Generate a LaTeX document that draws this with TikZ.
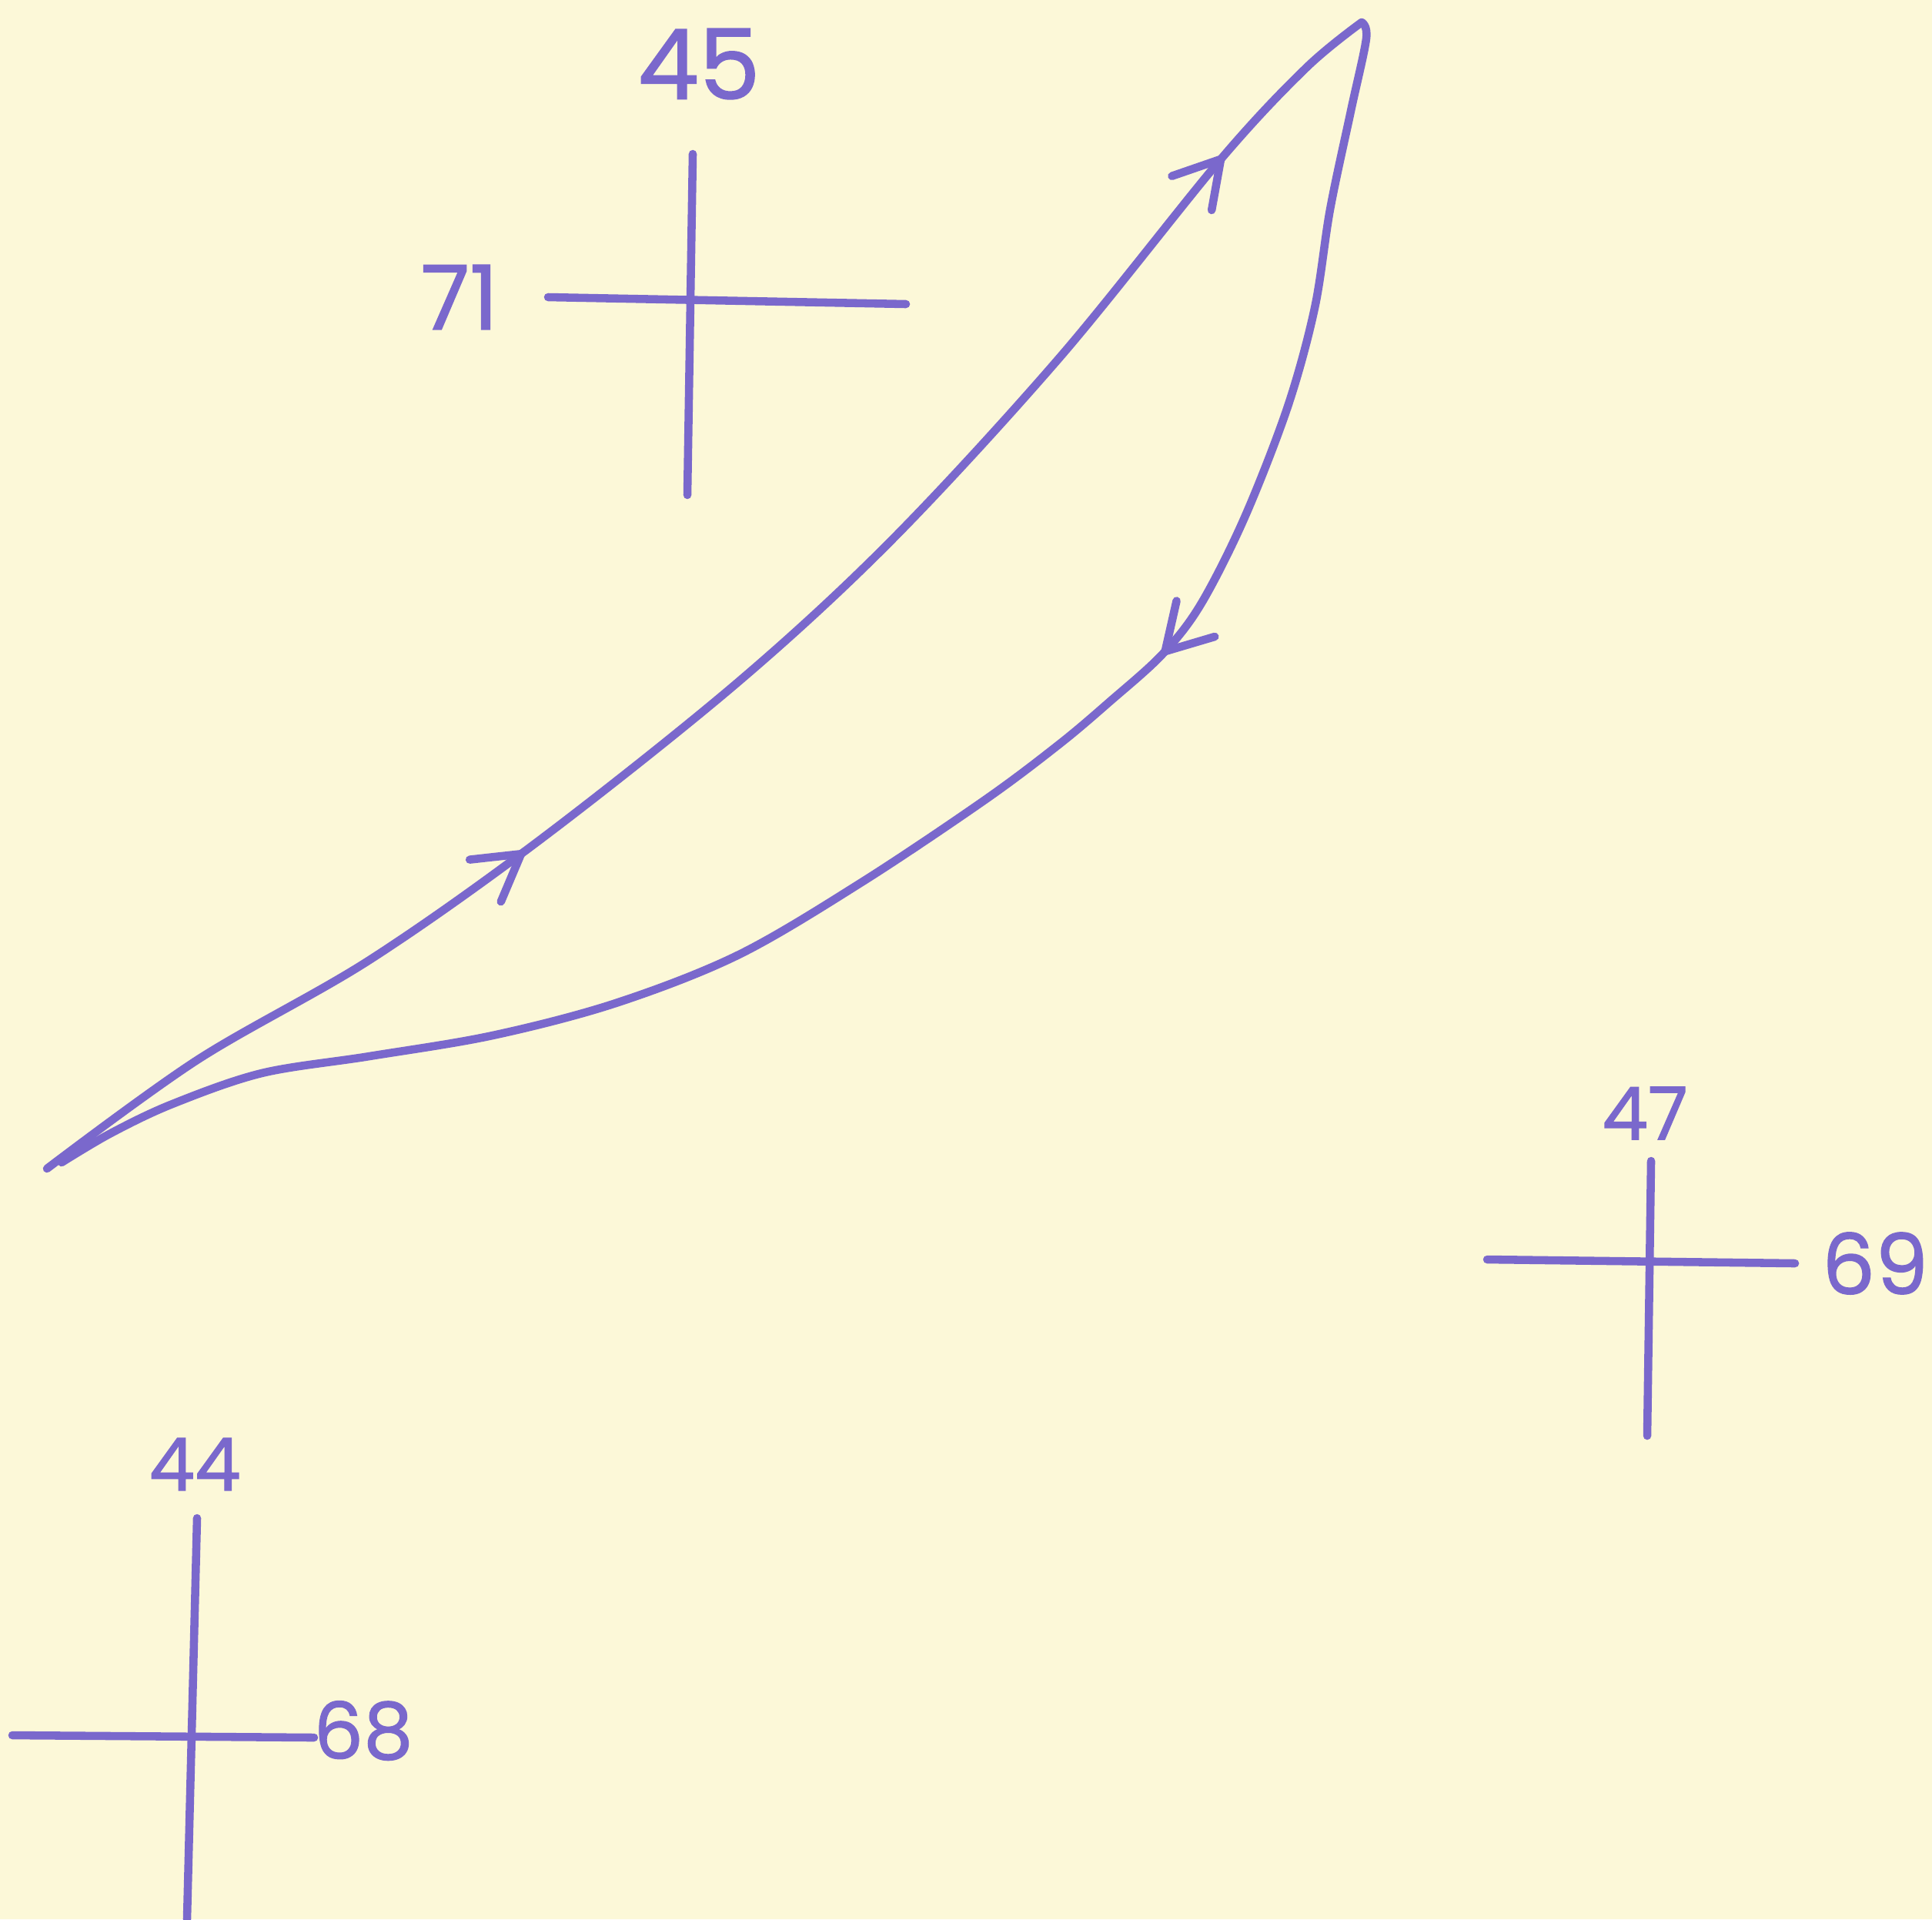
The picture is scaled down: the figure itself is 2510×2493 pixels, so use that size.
\documentclass[tikz,border=0pt]{standalone}
\usepackage{fontspec}
\setmainfont{Poppins}
\newfontfamily\hand{Poppins}[FakeBold=1.2]
\usetikzlibrary{arrows.meta,decorations.markings}
\definecolor{ink}{RGB}{122,104,204}
\definecolor{paper}{RGB}{252,248,216}
\begin{document}
\begin{tikzpicture}[x=0.01cm,y=-0.01cm,
  pen/.style={draw=ink, line width=3pt, line cap=round, line join=round},
  lbl/.style={text=ink, inner sep=0pt, font=\hand\fontsize{#1}{#1}\selectfont},
  bb/.tip={Straight Barb[length=0.58cm,width=0.68cm,round]}]
\fill[paper] (0,0) rectangle (2510,2493);
\useasboundingbox (0,0) rectangle (2510,2493);

% cross 1 (top)
\coordinate (c1t) at (900,200);
\coordinate (c1b) at (893,643);
\coordinate (c1l) at (712,386);
\coordinate (c1r) at (1177,395);
\draw[pen] (c1t) -- (c1b);
\draw[pen] (c1l) -- (c1r);
\node[lbl=36] (l45) at (908,83) {45};
\node[lbl=33] (l71) at (597,386) {71};

% cross 2 (right)
\coordinate (c2t) at (2145,1508);
\coordinate (c2b) at (2140,1865);
\coordinate (c2l) at (1932,1636);
\coordinate (c2r) at (2332,1641);
\draw[pen] (c2t) -- (c2b);
\draw[pen] (c2l) -- (c2r);
\node[lbl=27] (l47) at (2137,1446) {47};
\node[lbl=31] (l69) at (2436,1641) {69};

% cross 3 (bottom left)
\coordinate (c3t) at (256,1972);
\coordinate (c3b) at (243,2493);
\coordinate (c3l) at (16,2254);
\coordinate (c3r) at (408,2257);
\draw[pen] (c3t) -- (c3b);
\draw[pen] (c3l) -- (c3r);
\node[lbl=27] (l44) at (253,1902) {44};
\node[lbl=29] (l68) at (472,2248) {68};

% loop: upper branch (rising)
\coordinate (tipL) at (61,1518);
\coordinate (tipT) at (1769,29);
\draw[pen, postaction={decorate}, decoration={markings,
    mark=at position 7.45cm with {\arrow{bb}},
    mark=at position 20.3cm with {\arrow{bb}}}]
  plot[smooth, tension=0.55] coordinates {(61,1518) (256,1377) (480,1247) (704,1089) (960,885) (1160,700) (1377,464) (1585,208) (1697,88) (1769,29)};
% loop: right / lower branch (falling)
\draw[pen, postaction={decorate}, decoration={markings,
    mark=at position 8.75cm with {\arrow{bb}}}]
  plot[smooth, tension=0.55] coordinates {(1769,29) (1775,50) (1755,144) (1728,272) (1708,400) (1673,528) (1617,672) (1560,785) (1510,850) (1441,912) (1377,966) (1281,1038) (1121,1145) (960,1240) (800,1303) (640,1345) (480,1372) (340,1394) (224,1434) (144,1472) (80,1510)};
\end{tikzpicture}
\end{document}
